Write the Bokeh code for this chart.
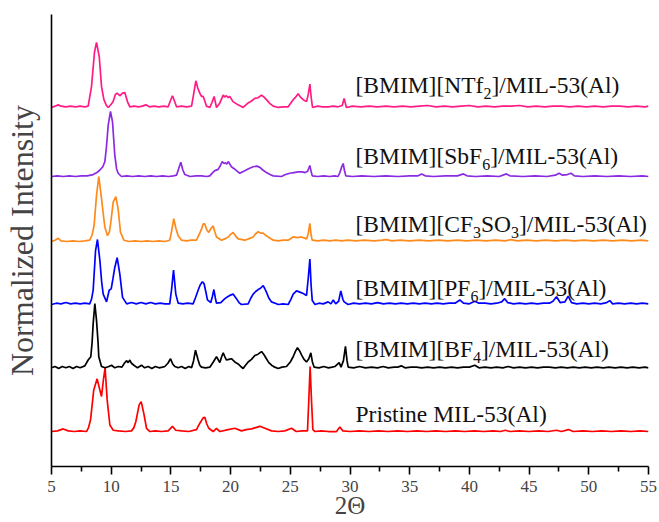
from bokeh.plotting import figure
from bokeh.models import FixedTicker, Label, Range1d, ColumnDataSource
from bokeh.embed import file_html
from bokeh.resources import INLINE

# ---------------- data (2-theta, normalized intensity) ----------------
x_ticks = [5, 10, 15, 20, 25, 30, 35, 40, 45, 50, 55]
x_minor = [7.5, 12.5, 17.5, 22.5, 27.5, 32.5, 37.5, 42.5, 47.5, 52.5]

series_names = ["Pristine", "BF4", "PF6", "CF3SO3", "SbF6", "NTf2"]

pristine = [(5.0, 0.0), (5.5, 0.01), (5.98, 0.04), (6.4, 0.01), (6.9, 0.0), (7.4, 0.01), (7.93, 0.0),
            (8.1, 0.06), (8.27, 0.18), (8.54, 0.64), (8.82, 0.81), (9.05, 0.64), (9.19, 0.54), (9.33, 0.77),
            (9.49, 0.98), (9.66, 0.49), (9.89, 0.1), (10.17, 0.02), (10.6, 0.01), (11.2, 0.0), (11.7, 0.01),
            (11.9, 0.06), (12.06, 0.15), (12.34, 0.41), (12.51, 0.46), (12.73, 0.28), (12.96, 0.05),
            (13.24, 0.0), (13.7, 0.01), (14.2, 0.0), (14.77, 0.01), (15.13, 0.08), (15.4, 0.02), (15.9, 0.01),
            (16.5, 0.0), (17.14, 0.03), (17.4, 0.12), (17.7, 0.21), (17.84, 0.22), (18.0, 0.12), (18.17, 0.05),
            (18.54, 0.0), (18.82, 0.05), (19.1, 0.0), (19.8, 0.03), (20.35, 0.05), (20.91, 0.01), (21.3, 0.03),
            (21.75, 0.04), (22.1, 0.06), (22.45, 0.08), (22.87, 0.05), (23.43, 0.01), (24.0, 0.0), (24.54, 0.01),
            (25.1, 0.05), (25.5, 0.0), (26.0, 0.01), (26.44, 0.01), (26.58, 0.62), (26.66, 1.0), (26.78, 0.46),
            (26.89, 0.03), (27.07, 0.0), (27.6, 0.01), (28.2, 0.0), (28.87, 0.0), (29.15, 0.07), (29.4, 0.01),
            (30.0, 0.0), (30.8, 0.01), (31.6, 0.0), (32.4, 0.01), (33.2, 0.0), (34.0, 0.01), (34.8, 0.0),
            (35.6, 0.01), (36.4, 0.0), (37.2, 0.01), (38.0, 0.0), (38.8, 0.01), (39.6, 0.0), (40.4, 0.01),
            (41.2, 0.0), (42.0, 0.01), (42.6, 0.0), (43.0, 0.02), (43.4, 0.0), (44.2, 0.01), (45.0, 0.0),
            (45.8, 0.01), (46.6, 0.0), (47.3, 0.02), (47.7, 0.0), (48.3, 0.03), (48.7, 0.0), (49.5, 0.01),
            (50.3, 0.0), (51.1, 0.01), (51.9, 0.0), (52.7, 0.01), (53.5, 0.0), (54.3, 0.01), (55.0, 0.0)]

bf4 = [(5.0, 0.01), (5.3, 0.03), (5.6, 0.0), (5.9, 0.03), (6.2, 0.01), (6.5, 0.03), (6.8, 0.0), (7.1, 0.03),
       (7.4, 0.01), (7.79, 0.04), (8.07, 0.13), (8.29, 0.18), (8.4, 0.4), (8.49, 0.69), (8.63, 1.0),
       (8.77, 0.74), (8.9, 0.4), (8.96, 0.18), (9.19, 0.03), (9.5, 0.01), (9.8, 0.03), (10.03, 0.05),
       (10.3, 0.01), (10.6, 0.03), (10.9, 0.02), (11.1, 0.08), (11.28, 0.12), (11.42, 0.09), (11.56, 0.13),
       (11.7, 0.08), (11.9, 0.05), (12.2, 0.01), (12.54, 0.05), (12.8, 0.01), (13.1, 0.03), (13.4, 0.0),
       (13.7, 0.03), (14.0, 0.01), (14.3, 0.02), (14.49, 0.03), (14.75, 0.08), (14.97, 0.15), (15.15, 0.07),
       (15.33, 0.03), (15.6, 0.01), (15.9, 0.03), (16.2, 0.0), (16.5, 0.03), (16.73, 0.01), (16.9, 0.12),
       (17.06, 0.28), (17.18, 0.2), (17.28, 0.13), (17.42, 0.05), (17.56, 0.02), (17.9, 0.01), (18.26, 0.02),
       (18.55, 0.1), (18.82, 0.18), (19.1, 0.09), (19.25, 0.18), (19.38, 0.24), (19.52, 0.18), (19.66, 0.13),
       (19.85, 0.14), (20.07, 0.15), (20.35, 0.1), (20.63, 0.07), (20.85, 0.03), (21.05, 0.0), (21.25, 0.05),
       (21.47, 0.1), (21.75, 0.14), (22.03, 0.2), (22.3, 0.22), (22.59, 0.26), (22.8, 0.21), (23.0, 0.15),
       (23.2, 0.09), (23.43, 0.05), (23.7, 0.02), (23.99, 0.0), (24.3, 0.02), (24.68, 0.03), (25.0, 0.1),
       (25.24, 0.18), (25.42, 0.26), (25.6, 0.32), (25.78, 0.27), (25.94, 0.21), (26.15, 0.14), (26.36, 0.1),
       (26.55, 0.15), (26.72, 0.24), (26.85, 0.1), (27.0, 0.02), (27.4, 0.01), (27.8, 0.03), (28.2, 0.01),
       (28.5, 0.02), (28.73, 0.03), (29.09, 0.09), (29.25, 0.02), (29.45, 0.12), (29.62, 0.34), (29.75, 0.12),
       (29.85, 0.02), (30.3, 0.01), (30.8, 0.03), (31.3, 0.01), (31.8, 0.02), (32.3, 0.01), (32.78, 0.03),
       (33.2, 0.01), (33.7, 0.02), (34.0, 0.02), (34.3, 0.04), (34.6, 0.01), (35.1, 0.02), (35.57, 0.02),
       (36.0, 0.01), (36.5, 0.02), (37.0, 0.01), (37.5, 0.02), (38.0, 0.01), (38.5, 0.02), (39.0, 0.01),
       (39.5, 0.02), (40.0, 0.02), (40.45, 0.05), (40.8, 0.01), (41.3, 0.02), (41.8, 0.01), (42.3, 0.02),
       (42.8, 0.01), (43.25, 0.03), (43.7, 0.01), (44.2, 0.02), (44.7, 0.01), (45.2, 0.02), (45.7, 0.01),
       (46.2, 0.02), (46.7, 0.02), (47.2, 0.01), (47.7, 0.02), (48.2, 0.01), (48.7, 0.02), (49.2, 0.01),
       (49.7, 0.02), (50.2, 0.01), (50.7, 0.02), (51.2, 0.01), (51.7, 0.02), (52.2, 0.01), (52.7, 0.02),
       (53.2, 0.01), (53.7, 0.02), (54.2, 0.01), (54.7, 0.02), (55.0, 0.01)]

pf6 = [(5.0, 0.0), (5.4, 0.02), (5.8, 0.01), (6.2, 0.03), (6.6, 0.01), (7.0, 0.02), (7.4, 0.01), (7.8, 0.02),
       (8.2, 0.01), (8.35, 0.08), (8.49, 0.22), (8.69, 0.83), (8.85, 1.0), (9.05, 0.68), (9.2, 0.35),
       (9.33, 0.16), (9.61, 0.04), (9.83, 0.22), (10.0, 0.24), (10.15, 0.4), (10.3, 0.57), (10.5, 0.72),
       (10.72, 0.47), (10.95, 0.11), (11.3, 0.01), (11.7, 0.03), (12.1, 0.01), (12.5, 0.03), (12.9, 0.01),
       (13.3, 0.03), (13.7, 0.01), (14.1, 0.02), (14.5, 0.01), (14.9, 0.01), (15.05, 0.22), (15.22, 0.53),
       (15.41, 0.16), (15.61, 0.02), (16.0, 0.01), (16.4, 0.02), (16.86, 0.01), (17.05, 0.1), (17.28, 0.22),
       (17.45, 0.3), (17.64, 0.35), (17.78, 0.32), (17.92, 0.2), (18.06, 0.07), (18.34, 0.03), (18.47, 0.12),
       (18.6, 0.23), (18.72, 0.1), (18.82, 0.02), (19.18, 0.03), (19.52, 0.09), (19.75, 0.12), (19.93, 0.14),
       (20.21, 0.16), (20.49, 0.09), (20.7, 0.03), (20.91, 0.0), (21.47, 0.01), (21.7, 0.1), (21.89, 0.16),
       (22.1, 0.2), (22.31, 0.23), (22.5, 0.25), (22.73, 0.29), (22.85, 0.25), (23.0, 0.19), (23.2, 0.1),
       (23.43, 0.04), (24.0, 0.0), (24.4, 0.01), (24.82, 0.0), (25.05, 0.08), (25.24, 0.16), (25.52, 0.21),
       (25.8, 0.19), (26.08, 0.17), (26.36, 0.14), (26.5, 0.4), (26.64, 0.7), (26.74, 0.3), (26.84, 0.06),
       (27.07, 0.0), (27.4, 0.02), (27.76, 0.01), (28.17, 0.04), (28.4, 0.01), (28.6, 0.07), (28.8, 0.01),
       (29.05, 0.05), (29.23, 0.21), (29.4, 0.08), (29.51, 0.04), (29.84, 0.0), (30.3, 0.02), (30.8, 0.01),
       (31.3, 0.02), (31.8, 0.01), (32.3, 0.03), (32.8, 0.01), (33.3, 0.02), (33.8, 0.01), (34.3, 0.02),
       (34.8, 0.01), (35.3, 0.02), (35.8, 0.01), (36.3, 0.02), (36.8, 0.01), (37.3, 0.02), (37.8, 0.01),
       (38.3, 0.02), (38.8, 0.02), (39.2, 0.07), (39.5, 0.02), (40.0, 0.01), (40.45, 0.05), (40.8, 0.02),
       (41.3, 0.02), (41.8, 0.01), (42.3, 0.02), (42.7, 0.04), (42.96, 0.09), (43.2, 0.03), (43.7, 0.01),
       (44.2, 0.02), (44.7, 0.01), (45.2, 0.02), (45.7, 0.01), (46.2, 0.02), (46.7, 0.02), (47.0, 0.05),
       (47.3, 0.12), (47.6, 0.03), (48.0, 0.04), (48.27, 0.13), (48.55, 0.03), (49.0, 0.01), (49.5, 0.02),
       (50.0, 0.01), (50.5, 0.02), (51.0, 0.01), (51.5, 0.03), (51.76, 0.06), (52.0, 0.01), (52.5, 0.02),
       (53.0, 0.01), (53.5, 0.02), (54.0, 0.01), (54.5, 0.02), (55.0, 0.01)]

cf3so3 = [(5.0, 0.0), (5.3, 0.02), (5.56, 0.05), (5.8, 0.01), (6.3, 0.0), (6.8, 0.01), (7.3, 0.0), (7.8, 0.01),
          (8.2, 0.02), (8.4, 0.1), (8.57, 0.25), (8.77, 0.71), (8.96, 1.0), (9.19, 0.66), (9.35, 0.4),
          (9.47, 0.22), (9.69, 0.09), (9.85, 0.15), (9.97, 0.3), (10.17, 0.61), (10.39, 0.69), (10.58, 0.5),
          (10.78, 0.14), (11.06, 0.02), (11.5, 0.0), (12.0, 0.01), (12.5, 0.0), (13.0, 0.01), (13.5, 0.0),
          (14.0, 0.01), (14.5, 0.0), (14.9, 0.02), (15.05, 0.15), (15.24, 0.35), (15.42, 0.2), (15.61, 0.09),
          (15.89, 0.02), (16.3, 0.01), (16.7, 0.02), (17.14, 0.02), (17.4, 0.12), (17.56, 0.19), (17.7, 0.27),
          (17.84, 0.27), (18.0, 0.18), (18.17, 0.14), (18.35, 0.2), (18.54, 0.24), (18.68, 0.15), (18.82, 0.07),
          (19.24, 0.02), (19.5, 0.04), (19.8, 0.07), (20.0, 0.11), (20.21, 0.14), (20.4, 0.09), (20.63, 0.04),
          (21.19, 0.02), (21.5, 0.04), (21.89, 0.07), (22.1, 0.12), (22.31, 0.15), (22.5, 0.13), (22.73, 0.13),
          (22.9, 0.1), (23.15, 0.07), (23.57, 0.02), (24.0, 0.01), (24.4, 0.02), (24.82, 0.02), (25.24, 0.07),
          (25.6, 0.06), (25.94, 0.07), (26.36, 0.04), (26.5, 0.12), (26.64, 0.28), (26.74, 0.1), (26.84, 0.02),
          (27.3, 0.01), (27.8, 0.02), (28.3, 0.01), (28.8, 0.02), (29.3, 0.01), (29.8, 0.02), (30.5, 0.01),
          (31.2, 0.02), (32.0, 0.01), (32.7, 0.02), (33.06, 0.03), (33.5, 0.01), (34.2, 0.02), (35.0, 0.01),
          (35.8, 0.02), (36.6, 0.01), (37.4, 0.02), (38.2, 0.01), (39.0, 0.02), (39.8, 0.01), (40.6, 0.02),
          (41.4, 0.01), (42.2, 0.02), (43.0, 0.01), (43.5, 0.03), (44.0, 0.01), (44.8, 0.02), (45.6, 0.01),
          (46.4, 0.02), (47.2, 0.01), (48.0, 0.02), (48.8, 0.01), (49.6, 0.02), (50.4, 0.01), (51.2, 0.02),
          (52.0, 0.01), (52.8, 0.02), (53.6, 0.01), (54.4, 0.02), (55.0, 0.01)]

sbf6 = [(5.0, 0.0), (5.5, 0.01), (6.0, 0.0), (6.5, 0.01), (7.0, 0.0), (7.5, 0.01), (8.0, 0.01), (8.49, 0.03),
        (8.8, 0.06), (9.05, 0.1), (9.3, 0.15), (9.47, 0.23), (9.6, 0.45), (9.75, 0.79), (9.94, 1.0),
        (10.11, 0.84), (10.3, 0.33), (10.45, 0.12), (10.58, 0.05), (10.86, 0.0), (11.3, 0.01), (11.8, 0.0),
        (12.3, 0.01), (12.8, 0.0), (13.3, 0.01), (13.8, 0.0), (14.3, 0.01), (14.8, 0.0), (15.2, 0.01),
        (15.47, 0.02), (15.65, 0.12), (15.83, 0.22), (16.0, 0.1), (16.17, 0.03), (16.6, 0.0), (17.1, 0.01),
        (17.56, 0.01), (18.0, 0.0), (18.26, 0.01), (18.5, 0.06), (18.68, 0.09), (18.96, 0.11), (19.15, 0.17),
        (19.3, 0.23), (19.45, 0.2), (19.57, 0.21), (19.68, 0.19), (19.8, 0.23), (20.07, 0.15), (20.3, 0.12),
        (20.49, 0.09), (20.77, 0.05), (21.19, 0.09), (21.5, 0.12), (21.89, 0.15), (22.2, 0.16), (22.45, 0.14),
        (22.7, 0.1), (23.0, 0.06), (23.3, 0.03), (23.57, 0.01), (24.26, 0.0), (24.6, 0.03), (24.96, 0.05),
        (25.3, 0.06), (25.66, 0.07), (26.0, 0.07), (26.22, 0.06), (26.45, 0.08), (26.64, 0.17), (26.74, 0.08),
        (26.84, 0.01), (27.3, 0.0), (27.8, 0.01), (28.3, 0.0), (28.7, 0.01), (29.0, 0.0), (29.15, 0.06),
        (29.29, 0.14), (29.43, 0.2), (29.55, 0.08), (29.65, 0.01), (30.2, 0.0), (31.0, 0.01), (32.0, 0.0),
        (33.0, 0.01), (34.0, 0.0), (35.0, 0.01), (35.7, 0.01), (36.0, 0.04), (36.3, 0.01), (37.0, 0.0),
        (38.0, 0.01), (39.0, 0.01), (39.5, 0.04), (39.8, 0.01), (40.5, 0.0), (41.5, 0.01), (42.5, 0.0),
        (43.1, 0.04), (43.4, 0.01), (44.5, 0.0), (45.5, 0.01), (46.5, 0.0), (47.2, 0.02), (47.5, 0.05),
        (47.8, 0.02), (48.2, 0.03), (48.5, 0.05), (48.8, 0.01), (49.5, 0.0), (50.5, 0.01), (51.5, 0.0),
        (52.5, 0.01), (53.5, 0.0), (54.5, 0.01), (55.0, 0.0)]

ntf2 = [(5.0, 0.0), (5.3, 0.02), (5.56, 0.04), (5.8, 0.02), (6.2, 0.01), (6.6, 0.02), (7.0, 0.01), (7.4, 0.02),
        (7.8, 0.01), (8.07, 0.02), (8.35, 0.32), (8.6, 0.85), (8.77, 1.0), (9.0, 0.78), (9.19, 0.32),
        (9.39, 0.12), (9.6, 0.03), (9.75, 0.0), (10.0, 0.05), (10.16, 0.09), (10.35, 0.2), (10.5, 0.22),
        (10.72, 0.18), (10.95, 0.22), (11.14, 0.23), (11.36, 0.09), (11.56, 0.01), (11.9, 0.02), (12.3, 0.01),
        (12.6, 0.02), (12.9, 0.04), (13.2, 0.01), (13.6, 0.02), (14.0, 0.01), (14.4, 0.02), (14.77, 0.01),
        (14.95, 0.1), (15.13, 0.18), (15.3, 0.1), (15.47, 0.01), (15.9, 0.02), (16.3, 0.01), (16.73, 0.02),
        (16.9, 0.2), (17.09, 0.41), (17.25, 0.3), (17.42, 0.22), (17.56, 0.17), (17.7, 0.17), (17.84, 0.1),
        (17.98, 0.02), (18.26, 0.0), (18.45, 0.08), (18.62, 0.17), (18.82, 0.0), (19.1, 0.07), (19.38, 0.19),
        (19.5, 0.16), (19.65, 0.18), (19.8, 0.15), (19.93, 0.17), (20.2, 0.09), (20.63, 0.04), (21.05, 0.0),
        (21.47, 0.07), (21.75, 0.1), (22.03, 0.14), (22.3, 0.15), (22.59, 0.19), (22.8, 0.16), (23.0, 0.12),
        (23.3, 0.06), (23.57, 0.02), (23.99, 0.0), (24.4, 0.01), (24.82, 0.01), (25.24, 0.12), (25.45, 0.16),
        (25.66, 0.21), (25.85, 0.16), (26.08, 0.12), (26.36, 0.09), (26.5, 0.2), (26.64, 0.36), (26.75, 0.15),
        (26.86, 0.0), (27.3, 0.02), (27.7, 0.01), (28.17, 0.01), (28.6, 0.02), (29.0, 0.01), (29.35, 0.03),
        (29.51, 0.14), (29.7, 0.0), (30.2, 0.02), (30.9, 0.01), (31.6, 0.02), (32.3, 0.01), (33.0, 0.02),
        (33.7, 0.01), (34.4, 0.02), (35.1, 0.01), (35.8, 0.02), (36.5, 0.03), (37.2, 0.01), (37.9, 0.02),
        (38.6, 0.01), (39.3, 0.02), (40.0, 0.03), (40.7, 0.01), (41.4, 0.02), (42.1, 0.01), (42.8, 0.02),
        (43.5, 0.02), (44.2, 0.03), (44.9, 0.01), (45.6, 0.02), (46.3, 0.01), (47.0, 0.02), (47.7, 0.02),
        (48.4, 0.01), (49.1, 0.02), (49.8, 0.01), (50.5, 0.02), (51.2, 0.01), (51.9, 0.02), (52.6, 0.02),
        (53.3, 0.01), (54.0, 0.02), (54.7, 0.01), (55.0, 0.02)]

# label pieces: (text, is_subscript)
label_pieces = {
    "NTf2": [("[BMIM][NTf", False), ("2", True), ("]/MIL-53(Al)", False)],
    "SbF6": [("[BMIM][SbF", False), ("6", True), ("]/MIL-53(Al)", False)],
    "CF3SO3": [("[BMIM][CF", False), ("3", True), ("SO", False), ("3", True), ("]/MIL-53(Al)", False)],
    "PF6": [("[BMIM][PF", False), ("6", True), ("]/MIL-53(Al)", False)],
    "BF4": [("[BMIM][BF", False), ("4", True), ("]/MIL-53(Al)", False)],
    "Pristine": [("Pristine MIL-53(Al)", False)],
}
x_title = "2\u0398"
y_title = "Normalized Intensity"

# ---------------- styling / layout ----------------
colors = {"Pristine": "#FF0000", "BF4": "#000000", "PF6": "#0000FF",
          "CF3SO3": "#FF8A1C", "SbF6": "#8A2BE2", "NTf2": "#FF1A85"}
offsets = {"Pristine": 0.0, "BF4": 0.97, "PF6": 1.954, "CF3SO3": 2.923, "SbF6": 3.923, "NTf2": 4.985}
label_y = {"Pristine": 0.27, "BF4": 1.27, "PF6": 2.215, "CF3SO3": 3.19, "SbF6": 4.24, "NTf2": 5.33}
label_x = 30.46
data = {"Pristine": pristine, "BF4": bf4, "PF6": pf6, "CF3SO3": cf3so3, "SbF6": sbf6, "NTf2": ntf2}

FONT = "Liberation Serif"
MAIN_PX = 23.5
SUB_PX = 16
# Times / Liberation Serif advance widths (per 1000 em)
W = {'[': 333, ']': 333, 'B': 667, 'M': 889, 'I': 333, 'N': 722, 'T': 611, 'f': 333, 'S': 556,
     'b': 500, 'F': 556, 'C': 667, 'O': 722, 'P': 556, '/': 278, 'L': 611, '-': 333, '(': 333,
     ')': 333, 'A': 722, 'l': 278, ' ': 250, 'r': 333, 'i': 278, 's': 389, 't': 278, 'n': 500, 'e': 444}


def text_width(s, size):
    return sum(W.get(c, 500) for c in s) / 1000.0 * size


p = figure(width=659, height=522, output_backend="svg", toolbar_location=None,
           x_range=Range1d(5, 55), y_range=Range1d(-0.538, 6.415),
           min_border_left=51, min_border_right=11, min_border_top=14, min_border_bottom=56)
p.outline_line_color = None
p.grid.grid_line_color = None
p.background_fill_color = "white"
p.border_fill_color = "white"

xa = p.xaxis[0]
xa.ticker = FixedTicker(ticks=x_ticks, minor_ticks=x_minor)
xa.axis_label = x_title
xa.axis_label_text_font = FONT
xa.axis_label_text_font_style = "normal"
xa.axis_label_text_font_size = "25px"
xa.axis_label_standoff = -3
xa.major_label_text_font = FONT
xa.major_label_text_font_size = "17px"
xa.major_label_standoff = 6
xa.major_tick_in = 0
xa.major_tick_out = 8
xa.minor_tick_in = 0
xa.minor_tick_out = 5
xa.axis_line_width = 1.6
xa.major_tick_line_width = 1.6
xa.minor_tick_line_width = 1.6

ya = p.yaxis[0]
ya.ticker = FixedTicker(ticks=[])
ya.axis_label = y_title
ya.axis_label_text_font = FONT
ya.axis_label_text_font_style = "normal"
ya.axis_label_text_font_size = "32px"
ya.axis_label_standoff = 12
ya.major_tick_out = 0
ya.minor_tick_out = 0
ya.major_label_standoff = 0
ya.axis_line_width = 1.6

for name in series_names:
    pts = data[name]
    xs = [a for a, b in pts]
    ys = [b + offsets[name] for a, b in pts]
    src = ColumnDataSource(dict(x=xs, y=ys))
    p.line("x", "y", source=src, line_color=colors[name], line_width=1.7)

    dx = 0.0
    for txt, sub in label_pieces[name]:
        size = SUB_PX if sub else MAIN_PX
        p.add_layout(Label(x=label_x, y=label_y[name], x_offset=dx, y_offset=(-8.5 if sub else 0),
                           text=txt, text_font=FONT, text_font_size=f"{size}px",
                           text_color="#111111", text_baseline="alphabetic", text_align="left"))
        dx += text_width(txt, size)

open("out.html", "w").write(file_html(p, INLINE))
